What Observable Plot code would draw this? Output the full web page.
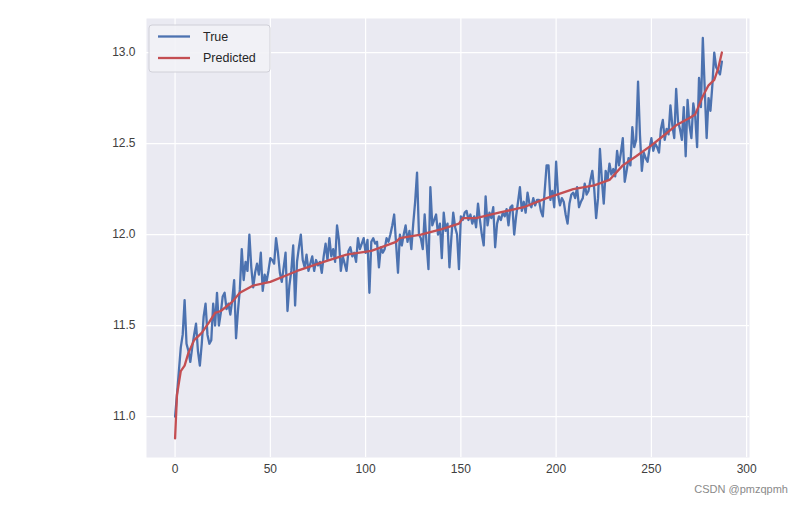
<!DOCTYPE html>
<html>
<head>
<meta charset="utf-8">
<script src="https://cdn.jsdelivr.net/npm/d3@7"></script>
<script src="https://cdn.jsdelivr.net/npm/@observablehq/plot@0.6"></script>
<style>
  html, body { margin: 0; padding: 0; background: #ffffff; }
  #chart { position: relative; width: 803px; height: 507px; }
  #wm { position: absolute; right: 15px; top: 483px; font: 11px "Liberation Sans", Arial, sans-serif; color: #8a8a8a; }
</style>
</head>
<body>
<div id="chart"><div id="wm">CSDN @pmzqpmh</div></div>
<script>
const trueValues = [
  11.00, 11.12, 11.25, 11.38, 11.45, 11.64, 11.40, 11.36, 11.30, 11.38,
  11.45, 11.51, 11.36, 11.28, 11.40, 11.55, 11.62, 11.45, 11.40, 11.42,
  11.62, 11.50, 11.68, 11.50, 11.57, 11.66, 11.68, 11.59, 11.62, 11.56,
  11.64, 11.75, 11.43, 11.58, 11.70, 11.92, 11.75, 11.85, 11.80, 12.00,
  11.82, 11.71, 11.79, 11.84, 11.78, 11.90, 11.69, 11.78, 11.74, 11.80,
  11.87, 11.86, 11.84, 11.98, 11.90, 11.79, 11.74, 11.82, 11.90, 11.58,
  11.72, 11.80, 11.94, 11.61, 11.85, 11.93, 12.00, 11.86, 11.82, 11.89,
  11.80, 11.84, 11.88, 11.80, 11.86, 11.83, 11.85, 11.79, 11.88, 11.95,
  11.86, 11.98, 11.88, 11.92, 11.85, 12.05, 11.97, 11.80, 11.88, 11.84,
  11.80, 11.91, 11.93, 11.88, 11.90, 11.85, 11.98, 11.92, 11.95, 11.98,
  11.90, 11.97, 11.68, 11.96, 11.98, 11.95, 11.96, 11.82, 11.93, 11.90,
  11.92, 11.98, 11.96, 12.00, 12.05, 12.11, 11.95, 11.79, 12.00, 11.94,
  12.00, 12.05, 11.96, 12.02, 11.92, 12.06, 12.18, 12.34, 12.00, 11.98,
  11.92, 12.11, 11.95, 11.81, 12.26, 12.05, 12.08, 12.11, 12.00, 12.06,
  11.87, 12.12, 12.02, 12.06, 11.82, 11.98, 12.12, 12.04, 12.00, 11.81,
  12.10, 12.08, 12.12, 12.13, 12.08, 12.11, 12.06, 12.10, 12.04, 12.17,
  12.08, 12.00, 11.94, 12.21, 12.05, 12.12, 12.09, 12.15, 11.93, 12.06,
  12.10, 12.08, 12.12, 12.10, 12.14, 12.05, 12.15, 12.16, 12.00, 12.10,
  12.18, 12.26, 12.13, 12.18, 12.12, 12.23, 12.17, 12.15, 12.20, 12.16,
  12.19, 12.19, 12.13, 12.10, 12.24, 12.38, 12.38, 12.19, 12.24, 12.15,
  12.40, 12.22, 12.16, 12.20, 12.18, 12.11, 12.06, 12.17, 12.22, 12.23,
  12.20, 12.26, 12.15, 12.18, 12.20, 12.28, 12.22, 12.24, 12.30, 12.35,
  12.25, 12.09, 12.20, 12.47, 12.30, 12.17, 12.35, 12.30, 12.39, 12.33,
  12.36, 12.32, 12.46, 12.38, 12.45, 12.53, 12.29, 12.35, 12.42, 12.38,
  12.59, 12.48, 12.52, 12.84, 12.55, 12.35, 12.45, 12.42, 12.40, 12.47,
  12.53, 12.46, 12.50, 12.48, 12.45, 12.58, 12.63, 12.52, 12.58, 12.55,
  12.71, 12.60, 12.53, 12.80, 12.62, 12.58, 12.52, 12.70, 12.43, 12.74,
  12.60, 12.53, 12.72, 12.65, 12.48, 12.86, 12.70, 13.08, 12.80, 12.53,
  12.75, 12.68, 12.82, 13.00, 12.92, 12.90, 12.88, 12.95
];
const predIndex = [0, 1, 3, 5, 7, 10, 14, 18, 21, 24, 30, 34, 41, 50, 64, 78, 90, 103, 116, 118, 129, 140, 149, 151, 158, 170, 183, 195, 209, 220, 228, 235, 242, 250, 256, 263, 270, 273, 277, 280, 283, 285, 287];
const predValues = [10.88, 11.12, 11.25, 11.28, 11.35, 11.42, 11.46, 11.52, 11.57, 11.58, 11.63, 11.68, 11.72, 11.74, 11.80, 11.85, 11.89, 11.91, 11.96, 11.98, 12.00, 12.03, 12.06, 12.09, 12.09, 12.12, 12.15, 12.20, 12.25, 12.27, 12.30, 12.38, 12.43, 12.49, 12.54, 12.60, 12.64, 12.66, 12.76, 12.82, 12.85, 12.91, 13.00];
const xTicks = [0, 50, 100, 150, 200, 250, 300];
const yTicks = [11.0, 11.5, 12.0, 12.5, 13.0];
const seriesNames = ["True", "Predicted"];
const seriesColors = ["#4c72b0", "#c44e52"];

const trueData = trueValues.map((v, i) => ({x: i, y: v}));
const predData = predIndex.map((x, k) => ({x, y: predValues[k]}));

const chart = Plot.plot({
  width: 803,
  height: 507,
  marginLeft: 146,
  marginRight: 54,
  marginTop: 18,
  marginBottom: 50,
  style: {fontFamily: "'Liberation Sans', Arial, sans-serif", fontSize: "12px", color: "#404040", background: "#ffffff"},
  x: {domain: [-15, 301.5]},
  y: {domain: [10.775, 13.187]},
  marks: [
    Plot.frame({fill: "#eaeaf2", stroke: null}),
    Plot.gridX(xTicks, {stroke: "#ffffff", strokeOpacity: 1, strokeWidth: 1.2}),
    Plot.gridY(yTicks, {stroke: "#ffffff", strokeOpacity: 1, strokeWidth: 1.2}),
    Plot.axisX(xTicks, {tickSize: 0, tickPadding: 7, label: null, tickFormat: d => String(d)}),
    Plot.axisY(yTicks, {tickSize: 0, tickPadding: 11, label: null, tickFormat: d => d.toFixed(1)}),
    Plot.line(trueData, {x: "x", y: "y", stroke: seriesColors[0], strokeWidth: 2.3}),
    Plot.line(predData, {x: "x", y: "y", stroke: seriesColors[1], strokeWidth: 2.3})
  ]
});

document.getElementById("chart").prepend(chart);

// legend inside the plot area (top-left)
const svg = d3.select(chart);
const lg = svg.append("g").attr("transform", "translate(149,25)");
lg.append("rect").attr("x", 0).attr("y", 0).attr("width", 121).attr("height", 47)
  .attr("rx", 3).attr("fill", "#f2f2f6").attr("fill-opacity", 0.9)
  .attr("stroke", "#d0d0d8").attr("stroke-width", 1);
seriesNames.forEach((name, k) => {
  const yy = 11.5 + k * 21.5;
  lg.append("line").attr("x1", 9).attr("x2", 41).attr("y1", yy).attr("y2", yy)
    .attr("stroke", seriesColors[k]).attr("stroke-width", 2.3);
  lg.append("text").attr("x", 54).attr("y", yy).attr("dy", "0.35em")
    .attr("text-anchor", "start")
    .attr("fill", "#262626").style("font", "12.5px 'Liberation Sans', Arial, sans-serif")
    .text(name);
});
</script>
</body>
</html>
